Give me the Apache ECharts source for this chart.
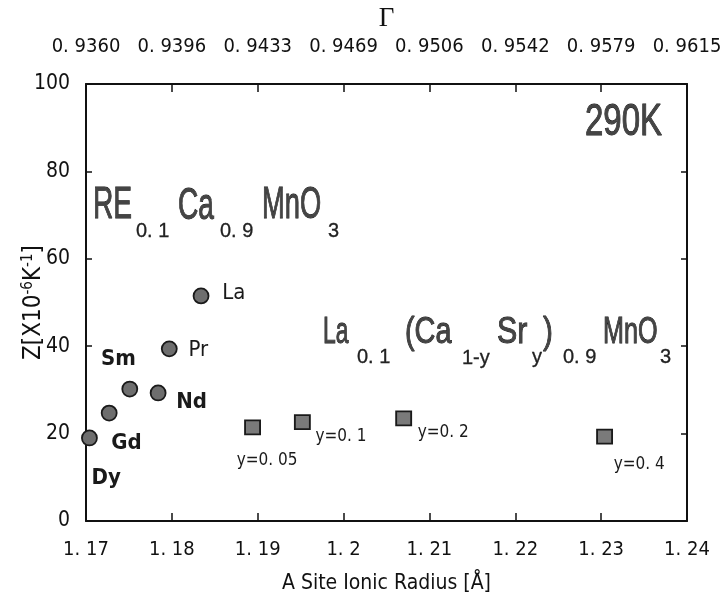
<!DOCTYPE html>
<html><head><meta charset="utf-8">
<script src="https://cdn.jsdelivr.net/npm/echarts@6/dist/echarts.min.js"></script>
<style>html,body{margin:0;padding:0;background:#fff}#c{width:723px;height:609px}</style>
</head><body><div id="c"></div>
<script>
// ---- data ----
const xMin = 1.17, xMax = 1.24, xStep = 0.01;
const yMin = 0, yMax = 100, yStep = 20;
const xTickLabels = ['1. 17','1. 18','1. 19','1. 2','1. 21','1. 22','1. 23','1. 24'];
const gammaTickLabels = ['0. 9360','0. 9396','0. 9433','0. 9469','0. 9506','0. 9542','0. 9579','0. 9615'];
const reNames = ['Dy','Gd','Sm','Nd','Pr','La'];
const reRadius = [1.1704, 1.1727, 1.1751, 1.1784, 1.1797, 1.1834];
const reZ = [19.0, 24.7, 30.2, 29.3, 39.4, 51.5];
const srNames = ['y=0. 05','y=0. 1','y=0. 2','y=0. 4'];
const srRadius = [1.1894, 1.1952, 1.2070, 1.2304];
const srZ = [21.4, 22.6, 23.5, 19.3];

// ---- styling (label placement relative to marker centre) ----
const reLabelOffset = [[3,41],[3,31],[-28,-29],[19,10],[20,2],[22,-2]];
const reLabelBold = [true,true,true,true,false,false];
const srLabelOffset = [[-15,33],[14,15],[15,15],[10,28]];
const NARROW = "'Liberation Sans Narrow','DejaVu Sans Condensed','Liberation Sans',sans-serif";
const SANS = "'Liberation Sans','DejaVu Sans',sans-serif";
const SYM = 15;

const chart = echarts.init(document.getElementById('c'), null, {renderer: 'canvas'});

function tickIdx(v){ return Math.round((v - xMin) / xStep); }

const reData = reNames.map((n, i) => ({
  value: [reRadius[i], reZ[i]],
  name: n,
  label: {
    show: true, formatter: n,
    position: [reLabelOffset[i][0] + SYM/2, reLabelOffset[i][1] + SYM/2],
    align: 'left', verticalAlign: 'middle',
    fontFamily: NARROW, fontSize: 22, fontWeight: reLabelBold[i] ? 'bold' : 'normal', color: '#1a1a1a'
  }
}));
const srData = srNames.map((n, i) => ({
  value: [srRadius[i], srZ[i]],
  name: n,
  label: {
    show: true, formatter: n,
    position: [srLabelOffset[i][0] + SYM/2, srLabelOffset[i][1] + SYM/2],
    align: 'left', verticalAlign: 'middle',
    fontFamily: NARROW, fontSize: 17, color: '#1a1a1a'
  }
}));

function piece(text, x, y, fs, sx) {
  const big = fs > 30;
  return {
    type: 'text', x: x, y: y, scaleX: sx, z: 100,
    style: {
      text: text, fontSize: fs, fontFamily: SANS, fill: big ? '#444' : '#222',
      stroke: '#111', lineWidth: big ? 0.9 : 0.3,
      align: 'left', verticalAlign: 'middle', textAlign: 'left', textVerticalAlign: 'middle'
    }
  };
}

const graphics = [
  // RE0.1Ca0.9MnO3
  piece('RE', 93, 206, 44, 0.64),
  piece('0. 1', 136, 231, 21, 0.95),
  piece('Ca', 178, 207, 44, 0.64),
  piece('0. 9', 220, 231, 21, 0.95),
  piece('MnO', 262, 206, 44, 0.62),
  piece('3', 328, 231, 21, 0.95),
  // La0.1(Ca1-ySry)0.9MnO3
  piece('La', 323, 333, 37, 0.62),
  piece('0. 1', 357, 357, 20, 1.0),
  piece('(Ca', 405, 333, 37, 0.78),
  piece('1-y', 462, 358, 20, 1.0),
  piece('Sr', 497, 333, 37, 0.82),
  piece('y', 532, 357, 20, 1.0),
  piece(')', 543, 333, 37, 0.8),
  piece('0. 9', 563, 357, 20, 1.0),
  piece('MnO', 603, 333, 37, 0.68),
  piece('3', 660, 357, 20, 1.0),
  // temperature
  piece('290K', 585, 123, 44, 0.75)
];

const option = {
  animation: false,
  backgroundColor: '#ffffff',
  grid: {left: 86, right: 36, top: 84, bottom: 88, containLabel: false, outerBoundsMode: 'none'},
  xAxis: [
    {
      type: 'value', position: 'bottom', min: xMin, max: xMax, interval: xStep,
      name: 'A Site Ionic Radius [Å]', nameLocation: 'middle', nameGap: 52, nameMoveOverlap: false,
      nameTextStyle: {fontFamily: NARROW, fontSize: 21, color: '#111'},
      axisLine: {show: true, onZero: false, lineStyle: {color: '#111', width: 2}},
      axisTick: {show: true, inside: true, length: 8, lineStyle: {color: '#111', width: 1.5}},
      axisLabel: {show: true, margin: 19, fontFamily: NARROW, fontSize: 20, color: '#111',
        showMinLabel: true, showMaxLabel: true, hideOverlap: false,
        formatter: v => xTickLabels[tickIdx(v)] || ''},
      splitLine: {show: false}
    },
    {
      type: 'value', position: 'top', min: xMin, max: xMax, interval: xStep,
      name: 'Γ', nameLocation: 'middle', nameGap: 52, nameMoveOverlap: false,
      nameTextStyle: {fontFamily: "'Liberation Serif','DejaVu Serif',serif", fontSize: 27, color: '#111'},
      axisLine: {show: true, onZero: false, lineStyle: {color: '#111', width: 2}},
      axisTick: {show: true, inside: true, length: 8, lineStyle: {color: '#111', width: 1.5}},
      axisLabel: {show: true, margin: 27, fontFamily: NARROW, fontSize: 20, color: '#111',
        showMinLabel: true, showMaxLabel: true, hideOverlap: false,
        formatter: v => gammaTickLabels[tickIdx(v)] || ''},
      splitLine: {show: false}
    }
  ],
  yAxis: [
    {
      type: 'value', position: 'left', min: yMin, max: yMax, interval: yStep,
      name: 'Z[X10{sup|-6}K{sup|-1}]', nameLocation: 'middle', nameGap: 40, nameRotate: 90,
      nameMoveOverlap: false,
      nameTextStyle: {fontFamily: NARROW, fontSize: 24, color: '#111',
        rich: {sup: {fontFamily: NARROW, fontSize: 15, color: '#111', verticalAlign: 'top', padding: [0,0,10,0]}}},
      axisLine: {show: true, onZero: false, lineStyle: {color: '#111', width: 2}},
      axisTick: {show: true, inside: true, length: 6, lineStyle: {color: '#111', width: 1.5}},
      axisLabel: {show: true, margin: 16, fontFamily: NARROW, fontSize: 21, color: '#111'},
      splitLine: {show: false}
    },
    {
      type: 'value', position: 'right', min: yMin, max: yMax, interval: yStep,
      axisLine: {show: true, onZero: false, lineStyle: {color: '#111', width: 2}},
      axisTick: {show: true, inside: true, length: 6, lineStyle: {color: '#111', width: 1.5}},
      axisLabel: {show: false},
      splitLine: {show: false}
    }
  ],
  series: [
    {
      type: 'scatter', xAxisIndex: 0, yAxisIndex: 0, symbol: 'circle', symbolSize: SYM,
      itemStyle: {color: '#6e6e6e', borderColor: '#1a1a1a', borderWidth: 1.8, opacity: 1},
      data: reData, z: 10
    },
    {
      type: 'scatter', xAxisIndex: 0, yAxisIndex: 0, symbol: 'rect', symbolSize: [15, 14],
      itemStyle: {color: '#7a7a7a', borderColor: '#1a1a1a', borderWidth: 1.8, opacity: 1},
      data: srData, z: 10
    }
  ],
  graphic: graphics
};
chart.setOption(option);
</script>
</body></html>
